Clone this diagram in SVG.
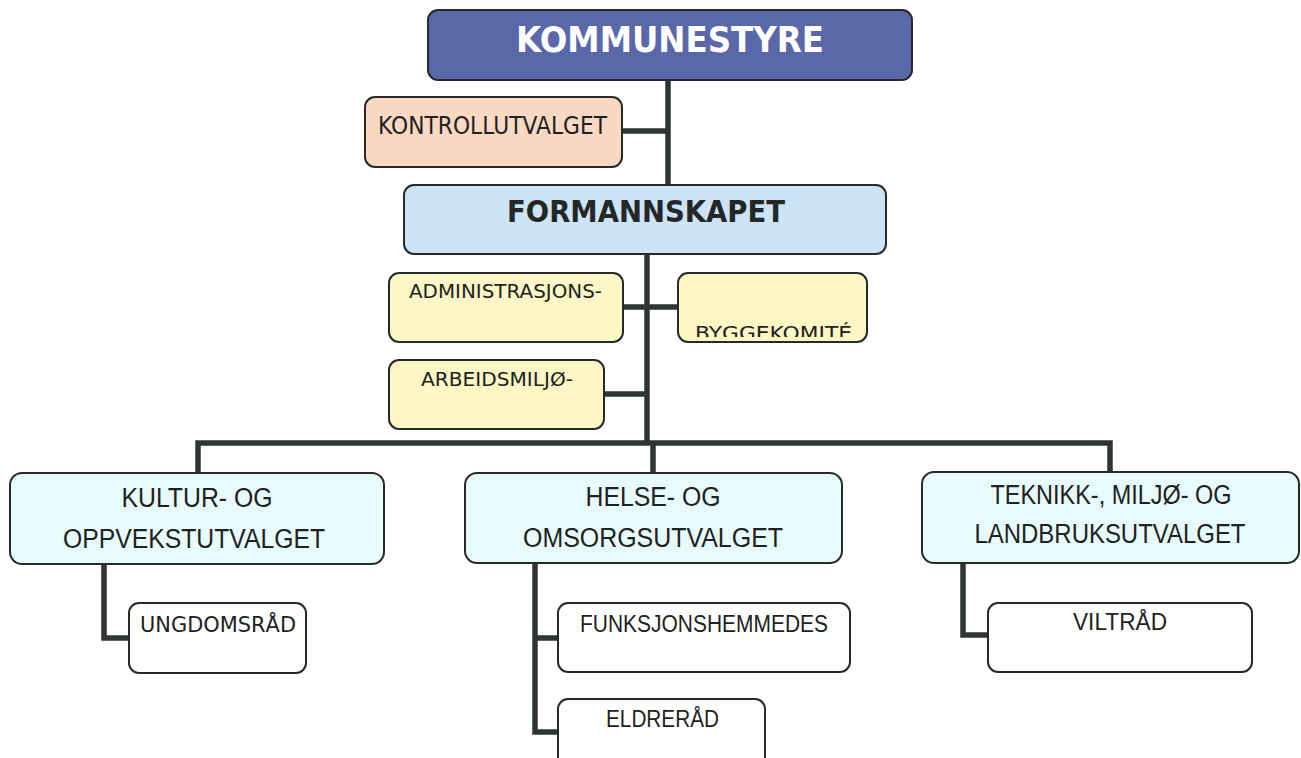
<svg xmlns="http://www.w3.org/2000/svg" width="1301" height="758" viewBox="0 0 1301 758">
<style>
.box{stroke:#262a28;stroke-width:2}
.con{fill:none;stroke:#2f3532;stroke-width:5.5;stroke-linejoin:miter;stroke-linecap:butt}
.t{font-family:"Liberation Sans",Arial,sans-serif;fill:#1e2220}
.tb{font-family:"DejaVu Sans",Verdana,sans-serif;font-weight:bold}
.tv{font-family:"DejaVu Sans",Verdana,sans-serif;fill:#1e2220}
</style>
<defs>
<clipPath id="clipBygg"><rect x="679" y="273" width="187" height="64"/></clipPath>
</defs>
<rect width="1301" height="758" fill="#ffffff"/>
<g id="connectors">
<path class="con" d="M668 80 V185"/>
<path class="con" d="M622 131 H668"/>
<path class="con" d="M647 254 V443"/>
<path class="con" d="M623 307 H678"/>
<path class="con" d="M604 394 H647"/>
<path class="con" d="M198 473 V443 H1110 V472"/>
<path class="con" d="M653 443 V473"/>
<path class="con" d="M104 564 V638 H129"/>
<path class="con" d="M535 563 V732 H558"/>
<path class="con" d="M535 638 H558"/>
<path class="con" d="M963 563 V635 H988"/>
</g>
<g id="kommunestyre">
<rect class="box" x="428" y="10" width="484" height="70" rx="10" fill="#5a67a8"/>
<text class="tb" x="670" y="52" font-size="36" fill="#ffffff" text-anchor="middle" textLength="308" lengthAdjust="spacingAndGlyphs">KOMMUNESTYRE</text>
</g>
<g id="kontrollutvalget">
<rect class="box" x="365" y="97" width="257" height="70" rx="10" fill="#fad8c3"/>
<text class="tv" x="378" y="134" font-size="24" textLength="229" lengthAdjust="spacingAndGlyphs">KONTROLLUTVALGET</text>
</g>
<g id="formannskapet">
<rect class="box" x="404" y="185" width="482" height="69" rx="10" fill="#cde3f8"/>
<text class="tb" x="507" y="222" font-size="30" fill="#232826" textLength="278" lengthAdjust="spacingAndGlyphs">FORMANNSKAPET</text>
</g>
<g id="administrasjons">
<rect class="box" x="389" y="273" width="234" height="69" rx="10" fill="#fdf7c6"/>
<text class="tv" x="409" y="298" font-size="19" textLength="193" lengthAdjust="spacingAndGlyphs">ADMINISTRASJONS-</text>
</g>
<g id="byggekomite">
<rect class="box" x="678" y="273" width="189" height="69" rx="10" fill="#fdf7c6"/>
<text class="tv" x="695" y="340" font-size="19" textLength="157" lengthAdjust="spacingAndGlyphs" clip-path="url(#clipBygg)">BYGGEKOMITÉ</text>
</g>
<g id="arbeidsmiljo">
<rect class="box" x="389" y="360" width="215" height="69" rx="10" fill="#fdf7c6"/>
<text class="tv" x="421" y="386" font-size="19" textLength="152" lengthAdjust="spacingAndGlyphs">ARBEIDSMILJØ-</text>
</g>
<g id="kultur">
<rect class="box" x="10" y="473" width="374" height="91" rx="12" fill="#e8fbfc"/>
<text class="t" x="197" y="507" font-size="27" text-anchor="middle" textLength="151" lengthAdjust="spacingAndGlyphs">KULTUR- OG</text>
<text class="t" x="194" y="548" font-size="27" text-anchor="middle" textLength="262" lengthAdjust="spacingAndGlyphs">OPPVEKSTUTVALGET</text>
</g>
<g id="helse">
<rect class="box" x="465" y="473" width="377" height="90" rx="12" fill="#e8fbfc"/>
<text class="t" x="653" y="506" font-size="27" text-anchor="middle" textLength="135" lengthAdjust="spacingAndGlyphs">HELSE- OG</text>
<text class="t" x="653" y="547" font-size="27" text-anchor="middle" textLength="260" lengthAdjust="spacingAndGlyphs">OMSORGSUTVALGET</text>
</g>
<g id="teknikk">
<rect class="box" x="922" y="472" width="377" height="91" rx="12" fill="#e8fbfc"/>
<text class="t" x="1111" y="504" font-size="27" text-anchor="middle" textLength="241" lengthAdjust="spacingAndGlyphs">TEKNIKK-, MILJØ- OG</text>
<text class="t" x="1110" y="543" font-size="27" text-anchor="middle" textLength="271" lengthAdjust="spacingAndGlyphs">LANDBRUKSUTVALGET</text>
</g>
<g id="ungdomsrad">
<rect class="box" x="129" y="603" width="177" height="70" rx="10" fill="#ffffff"/>
<text class="tv" x="140" y="632" font-size="22" textLength="156" lengthAdjust="spacingAndGlyphs">UNGDOMSRÅD</text>
</g>
<g id="funksjonshemmedes">
<rect class="box" x="558" y="603" width="292" height="69" rx="10" fill="#ffffff"/>
<text class="t" x="580" y="632" font-size="23" textLength="248" lengthAdjust="spacingAndGlyphs">FUNKSJONSHEMMEDES</text>
</g>
<g id="eldrerad">
<rect class="box" x="558" y="699" width="207" height="75" rx="10" fill="#ffffff"/>
<text class="t" x="606" y="727" font-size="23" textLength="113" lengthAdjust="spacingAndGlyphs">ELDRERÅD</text>
</g>
<g id="viltrad">
<rect class="box" x="988" y="603" width="264" height="69" rx="10" fill="#ffffff"/>
<text class="t" x="1073" y="630" font-size="23" textLength="94" lengthAdjust="spacingAndGlyphs">VILTRÅD</text>
</g>
</svg>
